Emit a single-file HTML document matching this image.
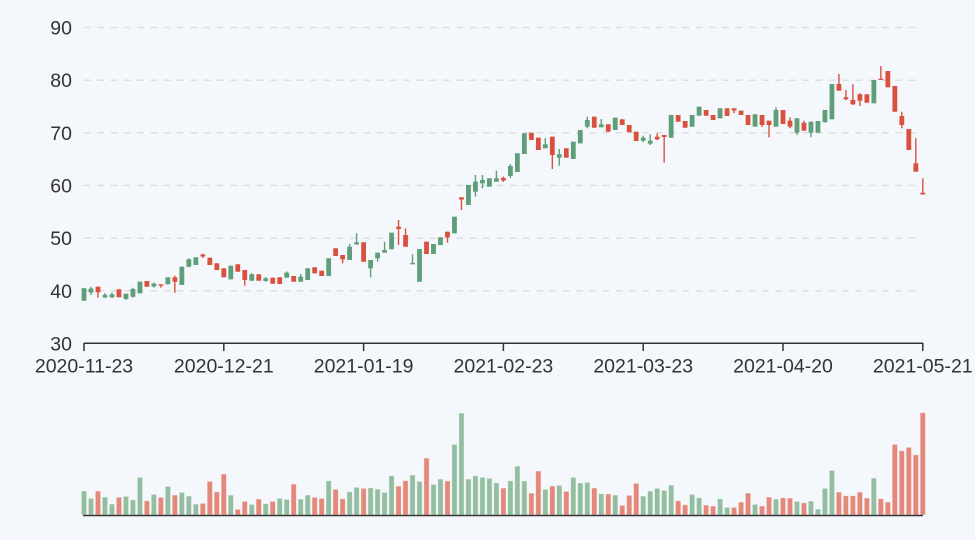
<!DOCTYPE html>
<html>
<head>
<meta charset="utf-8">
<style>
  html,body{margin:0;padding:0;background:#f4f7fb;}
  body{width:975px;height:540px;overflow:hidden;}
  svg{display:block;}
  text{font-family:"Liberation Sans","DejaVu Sans",sans-serif;font-size:19.5px;fill:#333;}
</style>
</head>
<body>
<svg id="chart" width="975" height="540" viewBox="0 0 975 540" xmlns="http://www.w3.org/2000/svg">
  <rect x="0" y="0" width="975" height="540" fill="#f4f7fb"/>
  <g stroke="#dedede" stroke-width="1.5" stroke-dasharray="6.7,6.6">
    <line x1="84" x2="923" y1="27.5" y2="27.5"/>
    <line x1="84" x2="923" y1="80.2" y2="80.2"/>
    <line x1="84" x2="923" y1="132.8" y2="132.8"/>
    <line x1="84" x2="923" y1="185.5" y2="185.5"/>
    <line x1="84" x2="923" y1="238.2" y2="238.2"/>
    <line x1="84" x2="923" y1="290.8" y2="290.8"/>
  </g>
  <g text-anchor="end">
    <text x="72" y="34.5">90</text>
    <text x="72" y="87.2">80</text>
    <text x="72" y="139.8">70</text>
    <text x="72" y="192.5">60</text>
    <text x="72" y="245.2">50</text>
    <text x="72" y="297.8">40</text>
    <text x="72" y="350.5">30</text>
  </g>
  <g stroke="#333" stroke-width="1.5" fill="none">
    <line x1="84" x2="923" y1="343.2" y2="343.2"/>
    <line x1="84" x2="84" y1="343" y2="351"/>
    <line x1="223.8" x2="223.8" y1="343" y2="351"/>
    <line x1="363.6" x2="363.6" y1="343" y2="351"/>
    <line x1="503.4" x2="503.4" y1="343" y2="351"/>
    <line x1="643.2" x2="643.2" y1="343" y2="351"/>
    <line x1="783" x2="783" y1="343" y2="351"/>
    <line x1="922.8" x2="922.8" y1="343" y2="351"/>
  </g>
  <g text-anchor="middle">
    <text x="84" y="372.5">2020-11-23</text>
    <text x="223.8" y="372.5">2020-12-21</text>
    <text x="363.6" y="372.5">2021-01-19</text>
    <text x="503.4" y="372.5">2021-02-23</text>
    <text x="643.2" y="372.5">2021-03-23</text>
    <text x="783" y="372.5">2021-04-20</text>
    <text x="922.8" y="372.5">2021-05-21</text>
  </g>
  <g id="candles"></g>
  <g id="vols"></g>
  <line x1="83" x2="923" y1="515.5" y2="515.5" stroke="#333" stroke-width="1.6"/>
</svg>
<script>
(function(){
var G='#5e9e78', R='#d9513e', VG='#93bea1', VR='#e3887a';
var C=[
[288.3,300.7,288,301,1],[288.5,292.5,286.7,295,1],[286.7,292.3,0,297.7,0],[295,297.5,293,298,1],[294.3,297.3,292.5,298,1],
[289.3,297.3,0,0,0],[293.7,299,0,300,1],[289,296.7,287.7,297.7,1],[281.7,293.3,0,0,1],[281,286.7,0,0,0],
[283.5,286.5,282.7,287.7,1],[284.3,285.7,0,287.7,0],[277.3,284.3,0,0,1],[277.3,281.7,275.7,292.7,0],[266.7,285,0,0,1],
[259.3,266.7,258.3,267.3,1],[257.3,265,0,0,1],[254.5,256.5,253.5,258,0],[257.7,265,0,0,0],[263.3,270,0,0,0],
[268.3,277.3,0,0,0],[265.7,279.3,0,0,1],[264.3,271.7,0,0,0],[270,280,0,285.7,0],[274.3,280.7,273.3,0,1],
[274.3,280.7,0,0,0],[278.3,281,277,281.7,1],[277.7,283.7,0,0,0],[277.3,284,0,0,0],[272.7,277.7,271.5,0,1],
[276,281.7,0,0,0],[276.7,281.7,274,0,1],[268.3,280,0,0,1],[267.3,273.3,0,0,0],[270.7,276,0,0,0],
[258.3,276,0,0,1],[248.3,256,0,0,0],[255,259.3,0,263.3,0],[246.7,260,244,0,1],[242.3,244.3,233.3,245,1],
[242.3,261.7,0,0,0],[260,268.3,0,277.3,1],[252.7,258.3,0,261.7,1],[250,252.7,241.7,0,1],[232.7,249.3,0,0,1],
[226.7,229,220,245,0],[235,246.7,228.3,0,0],[263,264.3,254.3,0,1],[249,281.7,0,0,1],[241.7,254,0,0,0],
[244,254,0,0,1],[237.3,245,0,0,1],[231.7,237.3,0,242.7,0],[216.7,233.3,0,0,1],[197.3,199.5,0,210,0],
[185,205,0,0,1],[181.7,191.7,175,196.7,1],[180,183.3,175,188.3,1],[178.3,186.7,0,0,1],[178.3,181.7,170.7,0,1],
[178,180.5,176.5,182,0],[166,176,164,178,1],[153.3,172,0,0,1],[133.3,154,0,0,1],[132.7,140,0,0,0],
[137.7,150,0,0,0],[144.3,148.3,138,0,1],[136.7,155,0,169,0],[154.3,157.7,149,165.7,1],[148.3,157.7,0,0,0],
[141.7,159,0,0,1],[130,143.3,0,0,1],[120,126.7,116.7,128.3,1],[116.7,127.7,0,0,0],[124.3,127.3,119,0,1],
[124.3,131.7,0,0,0],[117.7,130,0,0,1],[119.3,125,0,0,0],[125,132.3,0,0,0],[131.7,141,0,0,0],
[137.7,140.7,135.7,142.3,1],[140.7,143.7,134.3,145,1],[136.7,139.3,133.3,140,0],[135,137,0,162.7,0],[115,137.7,0,0,1],
[115,121.7,0,0,0],[121,127.7,0,0,0],[115,126.7,0,0,1],[106.7,115.7,0,0,1],[110,115.7,0,0,0],
[115,120,0,0,0],[108.3,118.3,0,0,1],[108.3,116,0,0,0],[108.3,110.5,0,113.3,0],[110.7,115,0,0,0],
[115,125,0,0,0],[114.3,126.7,0,0,1],[115,125,0,127,0],[120.7,125,0,137.3,0],[110,126.7,107.3,0,1],
[110,124,0,0,0],[120.7,126.7,117.3,128.3,0],[118.3,132.7,0,135,1],[122.7,130.7,120.7,0,0],[121.7,132.7,0,137.3,1],
[121,132.7,0,0,1],[110,122.3,0,0,1],[84,119.3,0,0,1],[84,90.7,74,0,0],[97.3,99.3,90,100,0],
[100,104.3,84.3,105,0],[94.3,100.7,93.3,106,0],[94.3,102.7,0,0,0],[80,103.3,0,0,1],[78.7,80,66,0,0],
[71,87.3,0,0,0],[86,111.7,0,0,0],[116,125,111.7,128.3,0],[129,150,0,0,0],[163.3,171.7,138.3,0,0],
[192.7,194.5,178.3,0,0]
];
var V=[
[24,1],[16.7,1],[24,0],[18,1],[11,1],[17.7,0],[18.7,1],[15.3,1],[37.7,1],[14.3,0],
[20.7,1],[17.7,0],[28.7,1],[20,0],[22.7,1],[19,1],[11,1],[11.7,0],[33.7,0],[23.3,0],
[41,0],[20,1],[5.7,0],[13.7,0],[10.7,1],[16,0],[11.3,1],[13.7,0],[16.7,1],[15.7,1],
[31,0],[16,1],[20,1],[17.7,0],[16.7,0],[34.3,1],[25.7,0],[16.3,0],[23.3,1],[27.7,1],
[26.7,0],[27.3,1],[26,1],[22.7,1],[39.3,1],[29,0],[34.3,0],[40,1],[33.7,1],[57,0],
[30.7,1],[36,1],[34,0],[70.7,1],[102,1],[36,1],[39.3,1],[37.7,1],[36.7,1],[32.3,1],
[27,0],[34.3,1],[49,1],[34,1],[22,0],[44,0],[25.7,1],[29,0],[29.7,1],[23.7,0],
[37.7,1],[32,1],[32.7,1],[27,0],[21.3,1],[21,0],[20,1],[9.7,0],[19.7,0],[31.7,0],
[19,1],[24,1],[26.7,1],[24.7,1],[30,1],[14.3,0],[10.3,0],[20.7,1],[17.3,1],[10,0],
[9,0],[16.3,1],[7.7,1],[7.7,0],[13,0],[22,0],[10.7,1],[9,0],[18,0],[16,1],
[17.3,0],[17,0],[13.7,1],[12.3,0],[14,1],[6,1],[26.7,1],[44.7,1],[23,0],[19.3,0],
[19.3,0],[23,0],[17,0],[37,1],[16.3,0],[13,0],[70.7,0],[64.3,0],[67.7,0],[60.3,0],
[102.3,0]
];
function X(i){return 84+i*838.8/120;}
var s='';
for(var i=0;i<C.length;i++){
  var d=C[i],x=X(i),t=d[0],b=d[1],h=d[2]||t,l=d[3]||b,col=d[4]?G:R;
  s+='<line x1="'+x.toFixed(2)+'" x2="'+x.toFixed(2)+'" y1="'+h+'" y2="'+l+'" stroke="'+col+'" stroke-width="1.4"/>';
  s+='<rect x="'+(x-2.4).toFixed(2)+'" y="'+t+'" width="4.8" height="'+Math.max(b-t,1.2).toFixed(2)+'" fill="'+col+'"/>';
}
document.getElementById('candles').innerHTML=s;
var v='';
for(var j=0;j<V.length;j++){
  var xx=X(j),hv=V[j][0];
  v+='<rect x="'+(xx-2.7).toFixed(2)+'" y="'+(515-hv).toFixed(2)+'" width="5.4" height="'+hv+'" fill="'+(V[j][1]?VG:VR)+'" stroke="#ffffff" stroke-opacity="0.55" stroke-width="0.9"/>';
}
document.getElementById('vols').innerHTML=v;
})();
</script>
</body>
</html>
